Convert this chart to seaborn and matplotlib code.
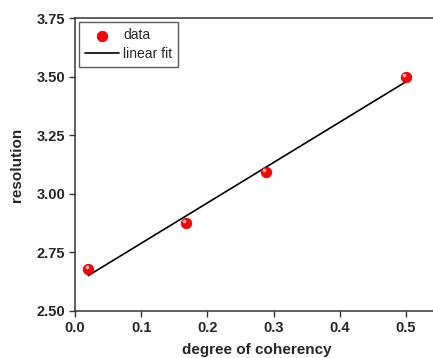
import matplotlib
matplotlib.use('Agg')
import matplotlib.pyplot as plt
import matplotlib.transforms as mtransforms
import seaborn as sns
import numpy as np
import pandas as pd

# data
coherency = [0.02, 0.167, 0.288, 0.5]
resolution = [2.68, 2.875, 3.093, 3.498]
x_ticks = [0.0, 0.1, 0.2, 0.3, 0.4, 0.5]
y_ticks = [2.50, 2.75, 3.00, 3.25, 3.50, 3.75]

df = pd.DataFrame({'coherency': coherency, 'resolution': resolution})

sns.set_style('ticks')
plt.rcParams['font.family'] = ['Liberation Sans', 'DejaVu Sans']

fig = plt.figure(figsize=(4.33, 3.58), dpi=100)
ax = fig.add_axes([75 / 433, 1 - 311 / 358, 364 / 433, 293 / 358])

# linear fit
sns.regplot(data=df, x='coherency', y='resolution', ax=ax, scatter=False, ci=None,
            truncate=True, color='black', line_kws={'linewidth': 1.2}, label='linear fit')

# data points (red balls with a small highlight)
sns.scatterplot(data=df, x='coherency', y='resolution', ax=ax, s=58, color='#ff0000',
                edgecolor='#d00000', linewidth=0.5, zorder=3, label='data')
hl = mtransforms.offset_copy(ax.transData, fig=fig, x=-1.5, y=1.8, units='dots')
ax.scatter(df['coherency'], df['resolution'], s=7, color='#ffb4b4', linewidths=0,
           zorder=4, transform=hl)

ax.set_xlim(0, 0.55)
ax.set_ylim(2.5, 3.75)
ax.set_xticks(x_ticks)
ax.set_yticks(y_ticks)
ax.set_xticklabels([f'{v:.1f}' for v in x_ticks], fontweight='bold', fontsize=10.5)
ax.set_yticklabels([f'{v:.2f}' for v in y_ticks], fontweight='bold', fontsize=10.5)
ax.tick_params(direction='out', length=4, width=1, color='#333333', pad=3)
for s in ax.spines.values():
    s.set_linewidth(1.1)
    s.set_color('#333333')
    s.set_visible(True)

ax.set_xlabel('degree of coherency', fontweight='bold', fontsize=11, labelpad=6)
ax.set_ylabel('resolution', fontweight='bold', fontsize=11, labelpad=9)

handles, labels = ax.get_legend_handles_labels()
order = [labels.index('data'), labels.index('linear fit')]
leg = ax.legend([handles[i] for i in order], [labels[i] for i in order], loc='upper left',
                fontsize=10, frameon=True, fancybox=False, borderaxespad=0.3,
                handlelength=2.4, handletextpad=0.3, borderpad=0.45, labelspacing=0.3)
leg.get_frame().set_edgecolor('#333333')
leg.get_frame().set_linewidth(1.0)

fig.savefig('out.png', dpi=100)
